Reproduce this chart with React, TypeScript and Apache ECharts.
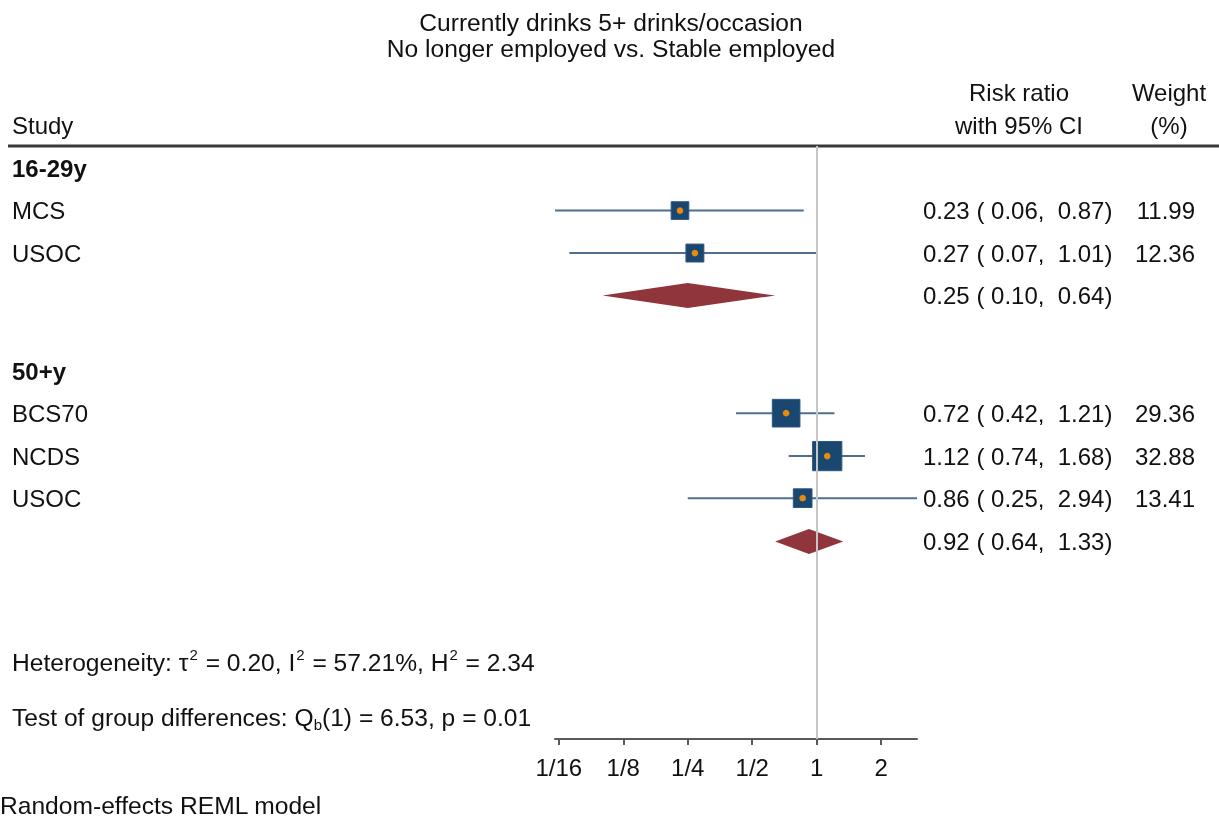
import React, { useEffect, useRef } from "react";
import * as echarts from "echarts";

// ---- data ----
const groups = ["16-29y", "50+y"];
const studies = ["MCS", "USOC", "BCS70", "NCDS", "USOC"];
const studyGroup = [0, 0, 1, 1, 1];
const rr = [0.23, 0.27, 0.72, 1.12, 0.86];
const lo = [0.06, 0.07, 0.42, 0.74, 0.25];
const hi = [0.87, 1.01, 1.21, 1.68, 2.94];
const weight = [11.99, 12.36, 29.36, 32.88, 13.41];
const pooledRR = [0.25, 0.92];
const pooledLo = [0.1, 0.64];
const pooledHi = [0.64, 1.33];
const tickValues = [1 / 16, 1 / 8, 1 / 4, 1 / 2, 1, 2];
const tickLabels = ["1/16", "1/8", "1/4", "1/2", "1", "2"];

// ---- layout (row positions in row units) ----
const headerRows = [0, 4.8];
const studyRows = [1, 2, 5.77, 6.78, 7.77];
const pooledRows = [3, 8.79];

const FONT = "'Liberation Sans', Arial, Helvetica, sans-serif";
const FS = 24;
const FS2 = 24.6;

const fmt = (v: number) => v.toFixed(2);
const ciText = (r: number, l: number, h: number) => `${fmt(r)} ( ${fmt(l)},  ${fmt(h)})`;

const txt = (text: string, x: number, y: number, extra: any = {}) => ({
  type: "text",
  x,
  y,
  style: { text, fontSize: FS, fontFamily: FONT, fill: "#111", verticalAlign: "middle", align: "left", ...extra },
});

export default function App() {
  const ref = useRef<HTMLDivElement>(null);
  useEffect(() => {
    if (!ref.current) return;
    const chart = echarts.init(ref.current, null, { renderer: "svg" });
    const l2 = Math.log2;
    const xMin = l2(Math.min(...lo));
    const xMax = l2(Math.max(...hi));

    const studyData = studies.map((s, i) => [studyRows[i], l2(rr[i]), l2(lo[i]), l2(hi[i]), weight[i], i, studyGroup[i]]);
    const pooledData = pooledRR.map((v, g) => [pooledRows[g], l2(v), l2(pooledLo[g]), l2(pooledHi[g]), g]);
    const headerData = groups.map((g, i) => [headerRows[i], 0, i]);

    const option: any = {
      animation: false,
      grid: { left: 555, right: 1219 - 917, top: 146, bottom: 820 - 739 },
      xAxis: {
        type: "value",
        position: "bottom",
        min: xMin,
        max: xMax,
        splitLine: { show: false },
        axisLine: { show: true, onZero: false, lineStyle: { color: "#5a5a5a", width: 2 } },
        axisTick: {
          show: true,
          customValues: tickValues.map((v) => l2(v)),
          length: 6,
          lineStyle: { color: "#5a5a5a", width: 2 },
        },
        axisLabel: {
          customValues: tickValues.map((v) => l2(v)),
          formatter: (val: number) => {
            const idx = tickValues.findIndex((t) => Math.abs(l2(t) - val) < 1e-6);
            return idx >= 0 ? tickLabels[idx] : "";
          },
          fontSize: FS,
          fontFamily: FONT,
          color: "#111",
          margin: 16,
        },
      },
      yAxis: { type: "value", min: -0.52, max: 13.44, inverse: true, show: false },
      graphic: [
        txt("Currently drinks 5+ drinks/occasion", 611, 22, { align: "center", fontSize: FS2 }),
        txt("No longer employed vs. Stable employed", 611, 48, { align: "center", fontSize: FS2 }),
        txt("Study", 12, 125),
        txt("Risk ratio", 1019, 92, { align: "center" }),
        txt("with 95% CI", 1019, 125, { align: "center" }),
        txt("Weight", 1169, 92, { align: "center" }),
        txt("(%)", 1169, 125, { align: "center" }),
        {
          type: "line",
          shape: { x1: 8, y1: 146, x2: 1219, y2: 146 },
          style: { stroke: "#3a3a3a", lineWidth: 3 },
        },
        {
          type: "text",
          x: 12,
          y: 662,
          style: {
            text: "{n|Heterogeneity: τ}{s|2}{n| = 0.20, I}{s|2}{n| = 57.21%, H}{s|2}{n| = 2.34}",
            fontFamily: FONT,
            fill: "#111",
            verticalAlign: "middle",
            rich: {
              n: { fontSize: FS2, fontFamily: FONT, lineHeight: 30, fill: "#111" },
              s: { fontSize: 15, fontFamily: FONT, lineHeight: 14, verticalAlign: "top", fill: "#111", padding: [0, 1, 0, 1] },
            },
          },
        },
        {
          type: "text",
          x: 12,
          y: 717,
          style: {
            text: "{n|Test of group differences: Q}{b|b}{n|(1) = 6.53, p = 0.01}",
            fontFamily: FONT,
            fill: "#111",
            verticalAlign: "middle",
            rich: {
              n: { fontSize: FS2, fontFamily: FONT, lineHeight: 30, fill: "#111" },
              b: { fontSize: 15, fontFamily: FONT, lineHeight: 14, verticalAlign: "bottom", fill: "#111" },
            },
          },
        },
        txt("Random-effects REML model", 0, 805, { fontSize: FS2 }),
      ],
      series: [
        {
          type: "line",
          data: [],
          z: 1,
          markLine: {
            silent: true,
            symbol: "none",
            label: { show: false },
            lineStyle: { color: "#c6c6c6", width: 2, type: "solid" },
            data: [{ xAxis: 0 }],
          },
        },
        {
          type: "custom",
          z: 3,
          clip: false,
          data: studyData,
          encode: { x: [1, 2, 3], y: 0 },
          renderItem: (params: any, api: any) => {
            const i = api.value(5);
            const y = api.coord([0, api.value(0)])[1];
            const xr = api.coord([api.value(1), 0])[0];
            const xl = api.coord([api.value(2), 0])[0];
            const xh = api.coord([api.value(3), 0])[0];
            const size = Math.sqrt(api.value(4)) * 5.1;
            return {
              type: "group",
              children: [
                { type: "line", shape: { x1: xl, y1: y, x2: xh, y2: y }, style: { stroke: "#4f6f8f", lineWidth: 2 } },
                {
                  type: "rect",
                  shape: { x: xr - size / 2, y: y - size / 2, width: size, height: size },
                  style: { fill: "#1a476f", stroke: "#2d5780", lineWidth: 1 },
                },
                { type: "circle", shape: { cx: xr, cy: y, r: 3.3 }, style: { fill: "#ea8a0c" } },
                txt(studies[i], 12, y),
                txt(ciText(rr[i], lo[i], hi[i]), 923, y),
                txt(fmt(weight[i]), 1195, y, { align: "right" }),
              ],
            };
          },
        },
        {
          type: "custom",
          z: 3,
          clip: false,
          data: pooledData,
          encode: { x: [1, 2, 3], y: 0 },
          renderItem: (params: any, api: any) => {
            const g = api.value(4);
            const y = api.coord([0, api.value(0)])[1];
            const xr = api.coord([api.value(1), 0])[0];
            const xl = api.coord([api.value(2), 0])[0];
            const xh = api.coord([api.value(3), 0])[0];
            const h = 12.5;
            return {
              type: "group",
              children: [
                {
                  type: "polygon",
                  shape: { points: [[xl, y], [xr, y - h], [xh, y], [xr, y + h]] },
                  style: { fill: "#90353b" },
                },
                txt(ciText(pooledRR[g], pooledLo[g], pooledHi[g]), 923, y),
              ],
            };
          },
        },
        {
          type: "custom",
          z: 3,
          clip: false,
          data: headerData,
          encode: { x: 1, y: 0 },
          renderItem: (params: any, api: any) => {
            const g = api.value(2);
            const y = api.coord([0, api.value(0)])[1];
            return txt(groups[g], 12, y, { fontWeight: "bold" });
          },
        },
      ],
    };
    chart.setOption(option);
    return () => chart.dispose();
  }, []);
  return <div ref={ref} style={{ position: "fixed", left: 0, top: 0, width: 1219, height: 820 }} />;
}
